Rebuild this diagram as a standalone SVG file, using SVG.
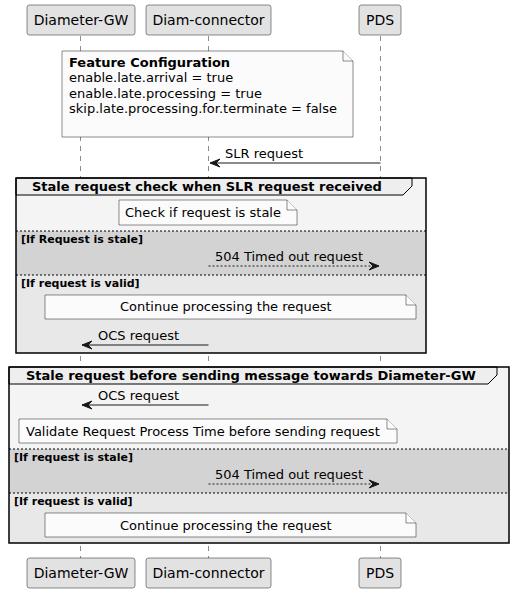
<svg xmlns="http://www.w3.org/2000/svg" width="514" height="593" viewBox="0 0 514 593">
<style>
text{font-family:"DejaVu Sans",sans-serif;fill:#000}
.pt{font-size:14px;text-anchor:middle}
.msg{font-size:13px}
.nt{font-size:13px}
.gt{font-size:13px;font-weight:bold}
.el{font-size:11px;font-weight:bold}
.part{fill:#E2E2E2;stroke:#181818;stroke-width:0.5}
.life{stroke:#181818;stroke-width:0.5;stroke-dasharray:5,5}
.note{fill:#FBFBFB;stroke:#181818;stroke-width:0.5}
.grp{fill:none;stroke:#000;stroke-width:1.5}
.hdr{fill:#EEEEEE;stroke:#000;stroke-width:1}
.sep{stroke:#000;stroke-width:1;stroke-dasharray:2,2}
.line{stroke:#181818;stroke-width:1}
.dash{stroke:#181818;stroke-width:1;stroke-dasharray:2,2}
.ah{fill:#181818;stroke:#181818;stroke-width:1}
</style>
<rect width="514" height="593" fill="#FFFFFF"/>
<g id="lifelines">
<line class="life" x1="80.5" y1="36" x2="80.5" y2="558"/>
<line class="life" x1="208.5" y1="36" x2="208.5" y2="558"/>
<line class="life" x1="380.5" y1="36" x2="380.5" y2="558"/>
</g>
<g id="group1">
<rect x="16" y="178" width="410" height="53" fill="#F4F4F4"/>
<rect x="16" y="231" width="410" height="44" fill="#D3D3D3"/>
<rect x="16" y="275" width="410" height="78" fill="#E8E8E8"/>
<path class="hdr" d="M16,178 L412,178 L412,186 L403,195 L16,195 Z"/>
<rect class="grp" x="16" y="178" width="410" height="175"/>
<text class="gt" x="32" y="191">Stale request check when SLR request received</text>
<line class="sep" x1="16" y1="231" x2="426" y2="231"/>
<line class="sep" x1="16" y1="275" x2="426" y2="275"/>
<text class="el" x="21" y="243">[If Request is stale]</text>
<text class="el" x="21" y="287">[If request is valid]</text>
</g>
<g id="group2">
<rect x="9" y="367" width="500" height="82" fill="#F4F4F4"/>
<rect x="9" y="449" width="500" height="44" fill="#D3D3D3"/>
<rect x="9" y="493" width="500" height="50" fill="#E8E8E8"/>
<path class="hdr" d="M9,367 L497,367 L497,375 L488,384 L9,384 Z"/>
<rect class="grp" x="9" y="367" width="500" height="176"/>
<text class="gt" x="26" y="380">Stale request before sending message towards Diameter-GW</text>
<line class="sep" x1="9" y1="449" x2="509" y2="449"/>
<line class="sep" x1="9" y1="493" x2="509" y2="493"/>
<text class="el" x="14" y="461">[If request is stale]</text>
<text class="el" x="14" y="505">[If request is valid]</text>
</g>
<g id="participant-diameter-gw-top">
<rect class="part" x="27" y="5" width="108" height="30" rx="2.5"/>
<text class="pt" x="81" y="25">Diameter-GW</text>
</g>
<g id="participant-diam-connector-top">
<rect class="part" x="146" y="5" width="125" height="30" rx="2.5"/>
<text class="pt" x="208.5" y="25">Diam-connector</text>
</g>
<g id="participant-pds-top">
<rect class="part" x="359" y="5" width="42" height="30" rx="2.5"/>
<text class="pt" x="380" y="25">PDS</text>
</g>
<g id="participant-diameter-gw-bottom">
<rect class="part" x="27" y="558" width="108" height="30" rx="2.5"/>
<text class="pt" x="81" y="578">Diameter-GW</text>
</g>
<g id="participant-diam-connector-bottom">
<rect class="part" x="146" y="558" width="125" height="30" rx="2.5"/>
<text class="pt" x="208.5" y="578">Diam-connector</text>
</g>
<g id="participant-pds-bottom">
<rect class="part" x="359" y="558" width="42" height="30" rx="2.5"/>
<text class="pt" x="380" y="578">PDS</text>
</g>
<g id="note-feature-config">
<path class="note" d="M62,51 L343,51 L353,61 L353,137 L62,137 Z"/>
<path class="note" d="M343,51 L343,61 L353,61" fill="none"/>
<text class="nt" x="69" y="67" font-weight="bold">Feature Configuration</text>
<text class="nt" x="69" y="82">enable.late.arrival = true</text>
<text class="nt" x="69" y="98">enable.late.processing = true</text>
<text class="nt" x="69" y="113">skip.late.processing.for.terminate = false</text>
</g>
<g id="note-check-stale">
<path class="note" d="M119,200 L287,200 L297,210 L297,225 L119,225 Z"/>
<path class="note" d="M287,200 L287,210 L297,210" fill="none"/>
<text class="nt" x="125" y="217">Check if request is stale</text>
</g>
<g id="note-continue-1">
<path class="note" d="M45,295 L406,295 L416,305 L416,319 L45,319 Z"/>
<path class="note" d="M406,295 L406,305 L416,305" fill="none"/>
<text class="nt" x="120" y="311">Continue processing the request</text>
</g>
<g id="note-validate">
<path class="note" d="M19,419 L387,419 L397,429 L397,443 L19,443 Z"/>
<path class="note" d="M387,419 L387,429 L397,429" fill="none"/>
<text class="nt" x="26" y="436">Validate Request Process Time before sending request</text>
</g>
<g id="note-continue-2">
<path class="note" d="M45,513 L406,513 L416,523 L416,537 L45,537 Z"/>
<path class="note" d="M406,513 L406,523 L416,523" fill="none"/>
<text class="nt" x="120" y="530">Continue processing the request</text>
</g>
<g id="connectors">
<line class="line" x1="380.5" y1="163" x2="210" y2="163"/>
<polygon class="ah" points="220,159 210,163 220,167 216,163"/>
<text class="msg" x="225" y="158">SLR request</text>
<line class="dash" x1="208.5" y1="266" x2="379" y2="266"/>
<polygon class="ah" points="369,262 379,266 369,270 373,266"/>
<text class="msg" x="215" y="261">504 Timed out request</text>
<line class="line" x1="208.5" y1="345" x2="82" y2="345"/>
<polygon class="ah" points="92,341 82,345 92,349 88,345"/>
<text class="msg" x="98" y="340">OCS request</text>
<line class="line" x1="208.5" y1="405" x2="82" y2="405"/>
<polygon class="ah" points="92,401 82,405 92,409 88,405"/>
<text class="msg" x="98" y="400">OCS request</text>
<line class="dash" x1="208.5" y1="484" x2="379" y2="484"/>
<polygon class="ah" points="369,480 379,484 369,488 373,484"/>
<text class="msg" x="215" y="479">504 Timed out request</text>
</g>
</svg>
